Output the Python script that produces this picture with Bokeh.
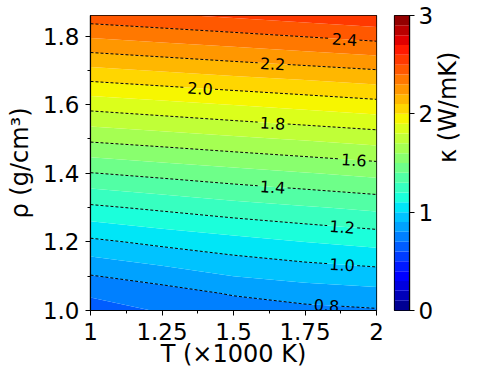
import math
import numpy as np
from bokeh.plotting import figure
from bokeh.plotting.contour import contour_data
from bokeh.models import FixedTicker, Range1d
from bokeh.layouts import row
from bokeh.embed import file_html
from bokeh.resources import INLINE
from bokeh.core.properties import value

# ---------------- data ----------------
T_VALUES = [1.0, 1.25, 1.5, 1.75, 2.0]                     # x 1000 K
RHO_VALUES = [1.0, 1.05, 1.1, 1.2, 1.3, 1.4, 1.5, 1.6, 1.7, 1.8, 1.86]  # g/cm3
# thermal conductivity kappa (W/mK); one row per density, one column per T
KAPPA = [
    [0.645, 0.710, 0.740, 0.770, 0.790],
    [0.718, 0.755, 0.810, 0.850, 0.870],
    [0.794, 0.845, 0.900, 0.930, 0.952],
    [0.978, 1.025, 1.063, 1.100, 1.130],
    [1.181, 1.220, 1.259, 1.290, 1.322],
    [1.396, 1.430, 1.464, 1.495, 1.526],
    [1.620, 1.650, 1.681, 1.710, 1.740],
    [1.840, 1.871, 1.902, 1.933, 1.964],
    [2.076, 2.107, 2.138, 2.166, 2.195],
    [2.314, 2.344, 2.374, 2.405, 2.436],
    [2.457, 2.487, 2.517, 2.548, 2.581],
]
FILL_LEVELS = [0.0, 0.1, 0.2, 0.3, 0.4, 0.5, 0.6, 0.7, 0.8, 0.9, 1.0, 1.1, 1.2, 1.3,
               1.4, 1.5, 1.6, 1.7, 1.8, 1.9, 2.0, 2.1, 2.2, 2.3, 2.4, 2.5, 2.6, 2.7,
               2.8, 2.9, 3.0]
LINE_LEVELS = [0.8, 1.0, 1.2, 1.4, 1.6, 1.8, 2.0, 2.2, 2.4]
X_TICKS = [1.0, 1.25, 1.5, 1.75, 2.0]
X_TICK_LABELS = ["1", "1.25", "1.5", "1.75", "2"]
X_MINOR_TICKS = [1.125, 1.375, 1.625, 1.875]
Y_TICKS = [1.0, 1.2, 1.4, 1.6, 1.8]
Y_TICK_LABELS = ["1.0", "1.2", "1.4", "1.6", "1.8"]
Y_MINOR_TICKS = [1.1, 1.3, 1.5, 1.7]
CB_TICKS = [0, 1, 2, 3]
X_RANGE = (1.0, 2.0)
Y_RANGE = (1.0, 1.86)
CB_RANGE = (0.0, 3.0)
X_LABEL = "T (×1000 K)"
Y_LABEL = "ρ (g/cm³)"
CB_LABEL = "κ (W/mK)"

# ---------------- style ----------------
FONT = "DejaVu Sans"
TICK_FS = "23px"
LABEL_FS = "24px"
CLABEL_FS = "16px"
FRAME_W, FRAME_H = 286, 295
# where (in T) the inline contour labels sit
CLABEL_T = {0.8: 1.825, 1.0: 1.88, 1.2: 1.88, 1.4: 1.637, 1.6: 1.921,
            1.8: 1.637, 2.0: 1.383, 2.2: 1.637, 2.4: 1.888}
GAP_PX = 15


def jet(v):
    r = np.interp(v, [0, 0.35, 0.66, 0.89, 1], [0, 0, 1, 1, 0.5])
    g = np.interp(v, [0, 0.125, 0.375, 0.64, 0.91, 1], [0, 0, 1, 1, 0, 0])
    b = np.interp(v, [0, 0.11, 0.34, 0.65, 1], [0.5, 1, 1, 0, 0])
    return "#%02x%02x%02x" % (int(round(r * 255)), int(round(g * 255)), int(round(b * 255)))


lo, hi = CB_RANGE
palette = [jet(((FILL_LEVELS[i] + FILL_LEVELS[i + 1]) / 2 - lo) / (hi - lo))
           for i in range(len(FILL_LEVELS) - 1)]

Z = np.array(KAPPA)


def style_axis(ax):
    ax.axis_line_color = "black"
    ax.axis_line_width = 1.2
    ax.major_tick_out = 5
    ax.major_tick_in = 0
    ax.minor_tick_out = 3
    ax.minor_tick_in = 0
    ax.major_tick_line_color = "black"
    ax.minor_tick_line_color = "black"
    ax.major_tick_line_width = 1
    ax.minor_tick_line_width = 1
    ax.major_label_text_font = FONT
    ax.major_label_text_font_size = TICK_FS
    ax.major_label_text_color = "black"
    ax.axis_label_text_font = FONT
    ax.axis_label_text_font_size = LABEL_FS
    ax.axis_label_text_font_style = "normal"
    ax.axis_label_text_color = "black"


# ---------------- main plot ----------------
p = figure(width=386, height=374, x_range=Range1d(*X_RANGE), y_range=Range1d(*Y_RANGE),
           toolbar_location=None, output_backend="svg",
           min_border_left=90, min_border_right=10, min_border_top=15, min_border_bottom=64)
p.grid.visible = False
p.outline_line_color = "black"
p.outline_line_width = 1.2
p.outline_line_alpha = 1.0

p.contour(x=T_VALUES, y=RHO_VALUES, z=Z, levels=FILL_LEVELS,
          fill_color=palette, line_color=None)

# dashed contour lines with inline labels
cd = contour_data(T_VALUES, RHO_VALUES, Z, LINE_LEVELS, want_fill=False, want_line=True)
sx_per = FRAME_W / (X_RANGE[1] - X_RANGE[0])
sy_per = FRAME_H / (Y_RANGE[1] - Y_RANGE[0])
hw = GAP_PX / sx_per
seg_xs, seg_ys = [], []
lab_x, lab_y, lab_t, lab_a = [], [], [], []
for lev, xs, ys in zip(LINE_LEVELS, cd.line_data.xs, cd.line_data.ys):
    xs = np.asarray(xs, float)
    ys = np.asarray(ys, float)
    breaks = list(np.where(np.isnan(xs))[0]) + [len(xs)]
    start = 0
    for b in breaks:
        sx, sy = xs[start:b], ys[start:b]
        start = b + 1
        if len(sx) < 2:
            continue
        o = np.argsort(sx)
        sx, sy = sx[o], sy[o]
        xl = CLABEL_T.get(lev)
        if xl is not None and sx[0] < xl - hw and xl + hw < sx[-1]:
            a, c = xl - hw, xl + hw
            ya, yc = np.interp(a, sx, sy), np.interp(c, sx, sy)
            m1 = sx < a
            m2 = sx > c
            seg_xs.append(list(sx[m1]) + [a]); seg_ys.append(list(sy[m1]) + [ya])
            seg_xs.append([c] + list(sx[m2])); seg_ys.append([yc] + list(sy[m2]))
            lab_x.append(xl); lab_y.append(float(np.interp(xl, sx, sy)))
            lab_t.append("%.1f" % lev)
            lab_a.append(math.atan2((yc - ya) * sy_per, (c - a) * sx_per))
        else:
            seg_xs.append(list(sx)); seg_ys.append(list(sy))

p.multi_line(xs=seg_xs, ys=seg_ys, line_color="black", line_width=1.0, line_dash="3 2")
p.text(x=lab_x, y=lab_y, text=lab_t, angle=lab_a, text_align="center",
       text_baseline="middle", text_font=value(FONT), text_font_size=CLABEL_FS,
       text_color="black")

style_axis(p.xaxis[0])
style_axis(p.yaxis[0])
p.xaxis.ticker = FixedTicker(ticks=X_TICKS, minor_ticks=X_MINOR_TICKS)
p.xaxis.major_label_overrides = dict(zip(X_TICKS, X_TICK_LABELS))
p.xaxis.major_label_standoff = 7
p.xaxis.axis_label = X_LABEL
p.xaxis.axis_label_standoff = -3
p.yaxis.ticker = FixedTicker(ticks=Y_TICKS, minor_ticks=Y_MINOR_TICKS)
p.yaxis.major_label_overrides = dict(zip(Y_TICKS, Y_TICK_LABELS))
p.yaxis.major_label_standoff = 6
p.yaxis.axis_label = Y_LABEL
p.yaxis.axis_label_standoff = 6

# ---------------- colour bar ----------------
cb = figure(width=112, height=374, x_range=Range1d(0, 1), y_range=Range1d(*CB_RANGE),
            toolbar_location=None, output_backend="svg", x_axis_location=None,
            y_axis_location="right", min_border_left=8, min_border_right=89,
            min_border_top=15, min_border_bottom=64)
cb.grid.visible = False
cb.outline_line_color = "black"
cb.outline_line_width = 1.2
cb.quad(left=0, right=1, bottom=FILL_LEVELS[:-1], top=FILL_LEVELS[1:],
        fill_color=palette, line_color=None)
ay = cb.yaxis[0]
style_axis(ay)
ay.ticker = FixedTicker(ticks=CB_TICKS, minor_ticks=[])
ay.minor_tick_out = 0
ay.major_label_standoff = 4
ay.axis_label = CB_LABEL
ay.axis_label_standoff = 12
try:
    ay.axis_label_orientation = math.pi / 2
except Exception:
    pass

layout = row(p, cb)
open("out.html", "w").write(file_html(layout, INLINE))
